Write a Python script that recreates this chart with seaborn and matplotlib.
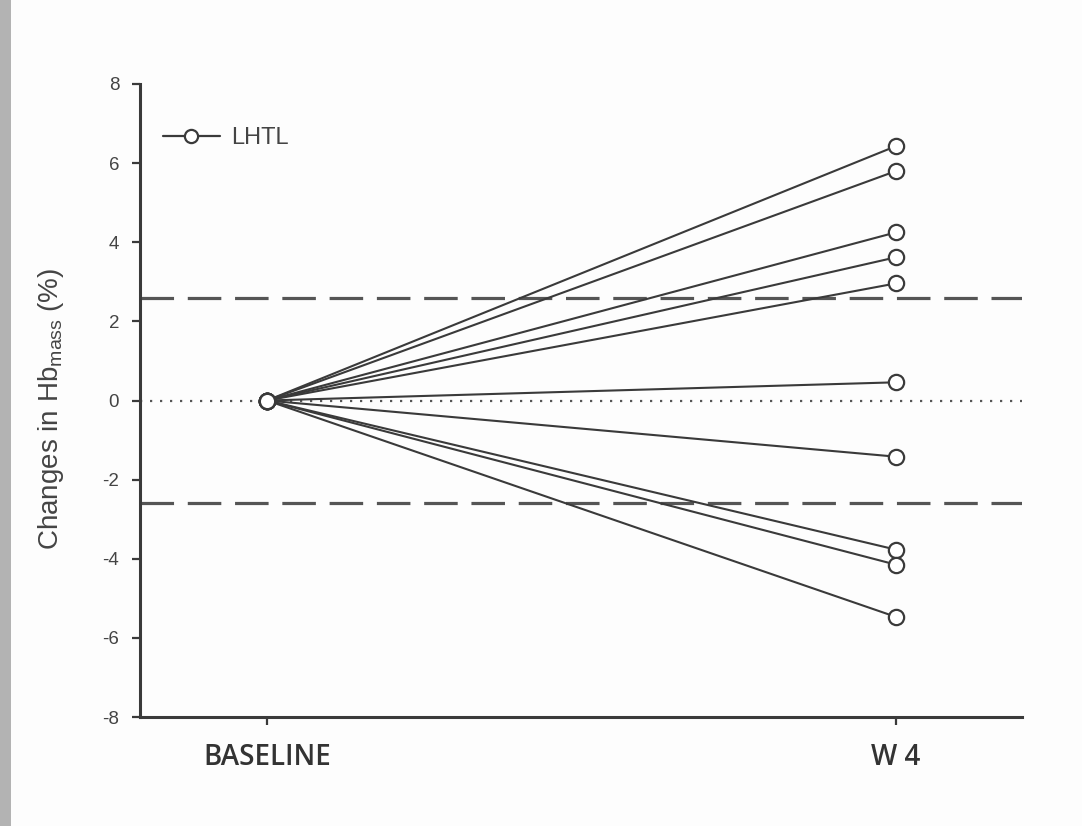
import numpy as np
import pandas as pd
import matplotlib
matplotlib.use("Agg")
import matplotlib.pyplot as plt
from matplotlib.lines import Line2D
from matplotlib.patches import Rectangle
import seaborn as sns

# ---- data ----
timepoints = ["BASELINE", "W 4"]
baseline_values = [0, 0, 0, 0, 0, 0, 0, 0, 0, 0]
w4_values = [6.43, 5.80, 4.25, 3.62, 2.96, 0.46, -1.42, -3.77, -4.15, -5.47]
threshold = 2.6
y_ticks = [-8, -6, -4, -2, 0, 2, 4, 6, 8]
legend_label = "LHTL"

subjects = list(range(len(w4_values)))
df = pd.DataFrame({
    "subject": subjects + subjects,
    "time": [0] * len(subjects) + [1] * len(subjects),
    "change": baseline_values + w4_values,
})

sns.set_theme(style="white")
plt.rcParams["font.family"] = ["Liberation Sans", "DejaVu Sans"]
plt.rcParams["mathtext.fontset"] = "custom"
plt.rcParams["mathtext.rm"] = "Liberation Sans"
plt.rcParams["mathtext.it"] = "Liberation Sans:italic"

fig = plt.figure(figsize=(10.82, 8.26), dpi=100)
fig.patch.set_facecolor("#fdfdfd")
fig.patches.append(Rectangle((0, 0), 11 / 1082, 1, transform=fig.transFigure,
                             facecolor="#b3b3b3", edgecolor="none", zorder=0))
ax = fig.add_axes([140 / 1082, (826 - 717) / 826, (1022 - 140) / 1082, (717 - 84) / 826])
ax.set_facecolor("#fdfdfd")

line_col = "#3a3a3a"
sns.lineplot(data=df, x="time", y="change", units="subject", estimator=None,
             color=line_col, linewidth=1.5, marker="o", markersize=11,
             markerfacecolor="white", markeredgecolor=line_col, markeredgewidth=1.6,
             ax=ax, legend=False, zorder=5)

# reference lines
ax.axhline(threshold, color="#555555", linewidth=2.3, linestyle=(0, (10.5, 4.3)), zorder=2)
ax.axhline(-threshold, color="#555555", linewidth=2.3, linestyle=(0, (10.5, 4.3)), zorder=2)
ax.axhline(0, color="#555555", linewidth=1.6, linestyle=(0, (1, 3.5)), zorder=2)

ax.set_xlim(-0.2019, 1.2003)
ax.set_ylim(-8, 8)
ax.set_yticks(y_ticks)
ax.set_yticklabels([str(v) for v in y_ticks], fontsize=13.5, color="#444444")
ax.set_xticks([0, 1])
ax.set_xticklabels(timepoints, fontsize=20, color="#333333", fontweight="semibold",
                   family=["Open Sans", "DejaVu Sans"])

for s in ["top", "right"]:
    ax.spines[s].set_visible(False)
for s in ["left", "bottom"]:
    ax.spines[s].set_color("#3a3a3a")
    ax.spines[s].set_linewidth(2.2)
ax.tick_params(axis="both", which="both", direction="out", length=6, width=1.6,
               color="#3a3a3a", left=True, bottom=True)
ax.tick_params(axis="x", pad=13)
ax.tick_params(axis="y", pad=9)

ax.set_xlabel("")
ax.set_ylabel(r"Changes in Hb$_{\mathrm{mass}}$ (%)", fontsize=20, color="#444444")
ax.yaxis.set_label_coords(-0.084, 0.487)

handle = Line2D([], [], color=line_col, linewidth=1.6, marker="o", markersize=9.5,
                markerfacecolor="white", markeredgecolor=line_col, markeredgewidth=1.6)
leg = ax.legend([handle], [legend_label], loc="center left", bbox_to_anchor=(0.002, 0.915),
                frameon=False, handlelength=2.4, handletextpad=0.5, fontsize=17,
                labelcolor="#444444")

fig.savefig("out.png", dpi=100)
